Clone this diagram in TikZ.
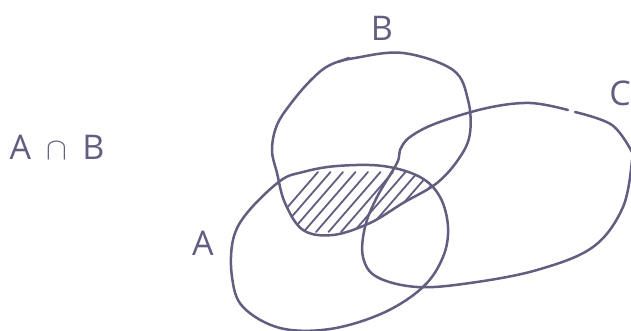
\documentclass[tikz,border=0pt]{standalone}
\usepackage{fontspec}
\setsansfont{Open Sans}
\begin{document}
\begin{tikzpicture}[x=1pt,y=-1pt,
  pen/.style={draw=inkc,line width=2.5pt,line cap=round,line join=round},
  hatch/.style={draw=inkc,line width=1.8pt,line cap=round},
  lbl/.style={text=inkc,font=\sffamily\fontsize{34}{34}\selectfont,inner sep=0pt}]
\definecolor{inkc}{HTML}{615E80}
\useasboundingbox (0,0) rectangle (631,331);
\def\pathA{plot[smooth cycle,tension=0.6] coordinates {(280,181) (247,213) (233,240) (232,277) (243,307) (280,328) (330,329) (383,313) (423,287) (443,257) (448,227) (440,197) (420,177) (383,166) (337,166) (303,172)}}
\def\pathB{plot[smooth cycle,tension=0.6] coordinates {(355,58) (403,53) (453,70) (468,100) (470,133) (460,157) (437,183) (403,203) (370,223) (333,235) (303,230) (285,203) (277,173) (272,150) (277,125) (292,102) (312,79) (330,65)}}
% hatching of A cap B
\begin{scope}
  \clip \pathA;
  \clip \pathB;
  \foreach \i in {0,...,13} {
    \draw[hatch] ({266+12.5*\i},232) -- ({318+12.5*\i},172);
  }
\end{scope}
\draw[pen] \pathA;
\draw[pen] \pathB;
\draw[pen] (349,58) -- (338,62);
% C
\draw[pen] plot[smooth,tension=0.6] coordinates {(568,110) (530,103) (487,108) (437,123) (410,137) (400,150) (397,163) (377,197) (365,227) (363,257) (377,277) (417,287) (470,283) (537,270) (593,247) (623,207) (632,160)};
\draw[pen] plot[smooth,tension=0.6] coordinates {(632,152) (612,125) (575,112)};
\node[lbl] (labB) at (382,28) {B};
\node[lbl] (labA) at (203,243) {A};
\node[lbl] (labC) at (620,93) {C};
\node[lbl] (labAB) at (57,147) {A\hspace{0.45em}\scalebox{1.25}{$\cap$}\hspace{0.45em}B};
\end{tikzpicture}
\end{document}
